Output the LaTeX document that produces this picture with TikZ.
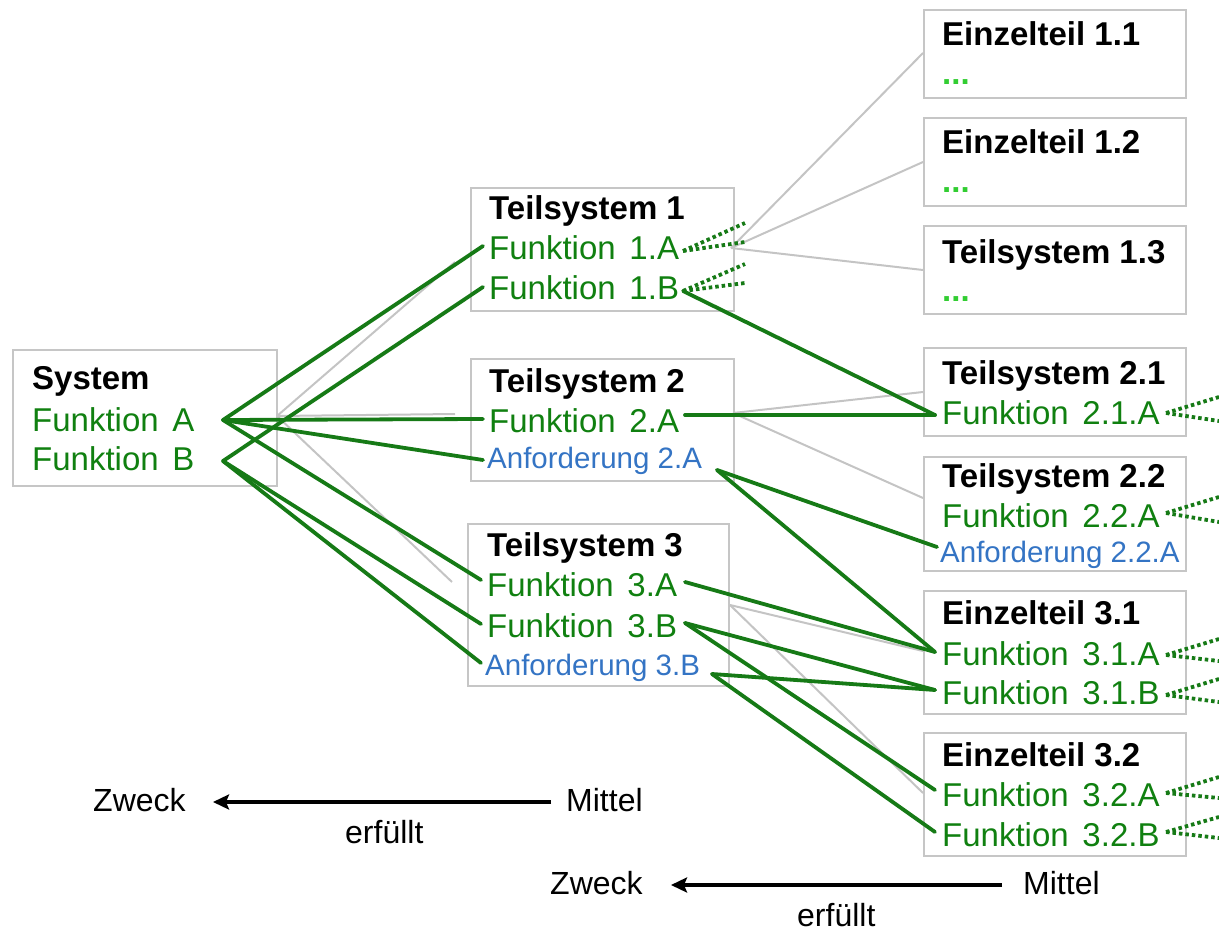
\documentclass[tikz,border=0pt]{standalone}
\usepackage{fontspec}
\setmainfont{Liberation Sans}
\newfontfamily\fnfont[WordSpace=1.5]{Liberation Sans}
\usetikzlibrary{arrows.meta}

\definecolor{fgreen}{RGB}{16,128,16}
\definecolor{lgreen}{RGB}{22,122,22}
\definecolor{rblue}{RGB}{52,116,196}
\definecolor{bgray}{RGB}{198,198,198}
\definecolor{tgray}{RGB}{196,196,196}
\definecolor{lime}{RGB}{50,205,50}

\tikzset{
  box/.style={draw=bgray, line width=2pt, anchor=north west, inner sep=0pt},
  ttl/.style={anchor=base west, inner sep=0pt, font=\bfseries\fontsize{33}{33}\selectfont},
  fn/.style={anchor=base west, inner sep=0pt, text=fgreen, font=\fnfont\fontsize{33}{33}\selectfont},
  req/.style={anchor=base west, inner sep=0pt, text=rblue, font=\fontsize{29.5}{30}\selectfont},
  more/.style={anchor=base west, inner sep=0pt, text=lime, font=\bfseries\fontsize{33}{33}\selectfont},
  lbl/.style={anchor=base west, inner sep=0pt, font=\fontsize{32}{32}\selectfont},
  link/.style={draw=lgreen, line width=3.8pt, line cap=round, line join=round},
  tree/.style={draw=tgray, line width=2pt},
  stub/.style={draw=lgreen, line width=3.8pt, dash pattern=on 3.5pt off 3pt},
  goal/.style={draw=black, line width=4pt, -{Stealth[length=16pt,width=15pt,inset=3pt]}},
}

\begin{document}
\begin{tikzpicture}[x=1pt,y=-1pt]
\useasboundingbox (0,0) rectangle (1219,931);

% ---------- boxes ----------
\node[box, minimum width=264pt, minimum height=136pt] (sys) at (12,349) {};
\node[box, minimum width=263pt, minimum height=123pt] (t1) at (470,187) {};
\node[box, minimum width=263pt, minimum height=122pt] (t2) at (470,358) {};
\node[box, minimum width=261pt, minimum height=162pt] (t3) at (467,523) {};
\node[box, minimum width=262pt, minimum height=88pt] (e11) at (923,9) {};
\node[box, minimum width=262pt, minimum height=88pt] (e12) at (923,117) {};
\node[box, minimum width=262pt, minimum height=88pt] (t13) at (923,225) {};
\node[box, minimum width=262pt, minimum height=88pt] (t21) at (923,347) {};
\node[box, minimum width=262pt, minimum height=114pt] (t22) at (923,456) {};
\node[box, minimum width=262pt, minimum height=123pt] (e31) at (923,590) {};
\node[box, minimum width=262pt, minimum height=123pt] (e32) at (923,732) {};

% ---------- texts ----------
\node[ttl] (sysT) at (32,389) {System};
\node[fn]  (sysA) at (32,431) {Funktion A};
\node[fn]  (sysB) at (32,470) {Funktion B};

\node[ttl] (t1T) at (489,219) {Teilsystem 1};
\node[fn]  (t1A) at (489,259) {Funktion 1.A};
\node[fn]  (t1B) at (489,299) {Funktion 1.B};

\node[ttl] (t2T) at (489,392) {Teilsystem 2};
\node[fn]  (t2A) at (489,432) {Funktion 2.A};
\node[req] (t2R) at (487,468) {Anforderung 2.A};

\node[ttl] (t3T) at (487,556) {Teilsystem 3};
\node[fn]  (t3A) at (487,596) {Funktion 3.A};
\node[fn]  (t3B) at (487,637) {Funktion 3.B};
\node[req] (t3R) at (485,675) {Anforderung 3.B};

\node[ttl]  (e11T) at (942,46) {Einzelteil 1.1};
\node[more] (e11M) at (942,85) {...};
\node[ttl]  (e12T) at (942,154) {Einzelteil 1.2};
\node[more] (e12M) at (942,193) {...};
\node[ttl]  (t13T) at (942,263) {Teilsystem 1.3};
\node[more] (t13M) at (942,301) {...};

\node[ttl] (t21T) at (942,384) {Teilsystem 2.1};
\node[fn]  (t21A) at (942,424) {Funktion 2.1.A};

\node[ttl] (t22T) at (942,487) {Teilsystem 2.2};
\node[fn]  (t22A) at (942,527) {Funktion 2.2.A};
\node[req] (t22R) at (940,562) {Anforderung 2.2.A};

\node[ttl] (e31T) at (942,624) {Einzelteil 3.1};
\node[fn]  (e31A) at (942,665) {Funktion 3.1.A};
\node[fn]  (e31B) at (942,704) {Funktion 3.1.B};

\node[ttl] (e32T) at (942,766) {Einzelteil 3.2};
\node[fn]  (e32A) at (942,806) {Funktion 3.2.A};
\node[fn]  (e32B) at (942,846) {Funktion 3.2.B};

% ---------- ports ----------
\coordinate (sysAr) at (223,420);
\coordinate (sysBr) at (223,461);
\coordinate (t1Al) at (483,246);
\coordinate (t1Bl) at (483,287);
\coordinate (t1Ar) at (683,251);
\coordinate (t1Br) at (683,291);
\coordinate (t2Al) at (483,419);
\coordinate (t2Ar) at (685,415);
\coordinate (t2Rl) at (483,460);
\coordinate (t2Rr) at (717,470);
\coordinate (t3Al) at (481,580);
\coordinate (t3Bl) at (481,624);
\coordinate (t3Rl) at (481,663);
\coordinate (t3Ar) at (685,582);
\coordinate (t3Br) at (685,623);
\coordinate (t3Rr) at (712,674);
\coordinate (t21Al) at (935,415);
\coordinate (t21Ar) at (1166,413);
\coordinate (t22Ar) at (1166,513);
\coordinate (t22Rl) at (937,547);
\coordinate (e31Al) at (935,652);
\coordinate (e31Bl) at (935,690);
\coordinate (e31Ar) at (1166,655);
\coordinate (e31Br) at (1166,695);
\coordinate (e32Al) at (935,790);
\coordinate (e32Bl) at (935,832);
\coordinate (e32Ar) at (1166,793);
\coordinate (e32Br) at (1166,832);

% ---------- structure tree (grey) ----------
\coordinate (sysRoot) at (277,416);
\coordinate (t1In) at (455,262);
\coordinate (t2In) at (455,414);
\coordinate (t3In) at (452,582);
\coordinate (t1Root) at (731,248);
\coordinate (t2Root) at (733,413);
\coordinate (t3Root) at (730,605);
\draw[tree] (sysRoot) -- (t1In);
\draw[tree] (sysRoot) -- (t2In);
\draw[tree] (sysRoot) -- (t3In);
\draw[tree] (t1Root) -- (e11.west |- 0,53);
\draw[tree] (t1Root) -- (e12.west |- 0,162);
\draw[tree] (t1Root) -- (t13.west |- 0,270);
\draw[tree] (t2Root) -- (t21.west |- 0,392);
\draw[tree] (t2Root) -- (t22.west |- 0,498);
\draw[tree] (t3Root) -- (e31.west |- 0,651);
\draw[tree] (t3Root) -- (e32.west |- 0,793);

% ---------- function links (green) ----------
\draw[link] (sysAr) -- (t1Al);
\draw[link] (sysAr) -- (t2Al);
\draw[link] (sysAr) -- (t2Rl);
\draw[link] (sysAr) -- (t3Al);
\draw[link] (sysBr) -- (t1Bl);
\draw[link] (sysBr) -- (t3Bl);
\draw[link] (sysBr) -- (t3Rl);
\draw[link] (t1Br) -- (t21Al);
\draw[link] (t2Ar) -- (t21Al);
\draw[link] (t2Rr) -- (t22Rl);
\draw[link] (t2Rr) -- (e31Al);
\draw[link] (t3Ar) -- (e31Al);
\draw[link] (t3Br) -- (e31Bl);
\draw[link] (t3Br) -- (e32Al);
\draw[link] (t3Rr) -- (e31Bl);
\draw[link] (t3Rr) -- (e32Bl);

% ---------- continuation stubs (dotted) ----------
\coordinate (s1a) at (745,223); \coordinate (s1b) at (745,242);
\coordinate (s2a) at (745,264); \coordinate (s2b) at (745,283);
\draw[stub] (t1Ar) -- (s1a); \draw[stub] (t1Ar) -- (s1b);
\draw[stub] (t1Br) -- (s2a); \draw[stub] (t1Br) -- (s2b);
\foreach \p/\ya/\yb in {t21Ar/397/421, t22Ar/497/522, e31Ar/639/661,
                        e31Br/679/702, e32Ar/777/798, e32Br/817/838}{
  \coordinate (\p-u) at (1219,\ya);
  \coordinate (\p-d) at (1219,\yb);
  \draw[stub] (\p) -- (\p-u);
  \draw[stub] (\p) -- (\p-d);
}

% ---------- legend: means fulfil purpose ----------
\node[lbl] (z1) at (93,811) {Zweck};
\node[lbl] (m1) at (566,811) {Mittel};
\node[lbl] (f1) at (345,843) {erfüllt};
\coordinate (m1tail) at (551,802);
\coordinate (z1tip) at (213,802);
\draw[goal] (m1tail) -- (z1tip);

\node[lbl] (z2) at (550,894) {Zweck};
\node[lbl] (m2) at (1023,894) {Mittel};
\node[lbl] (f2) at (797,926) {erfüllt};
\coordinate (m2tail) at (1002,885);
\coordinate (z2tip) at (671,885);
\draw[goal] (m2tail) -- (z2tip);
\end{tikzpicture}
\end{document}
